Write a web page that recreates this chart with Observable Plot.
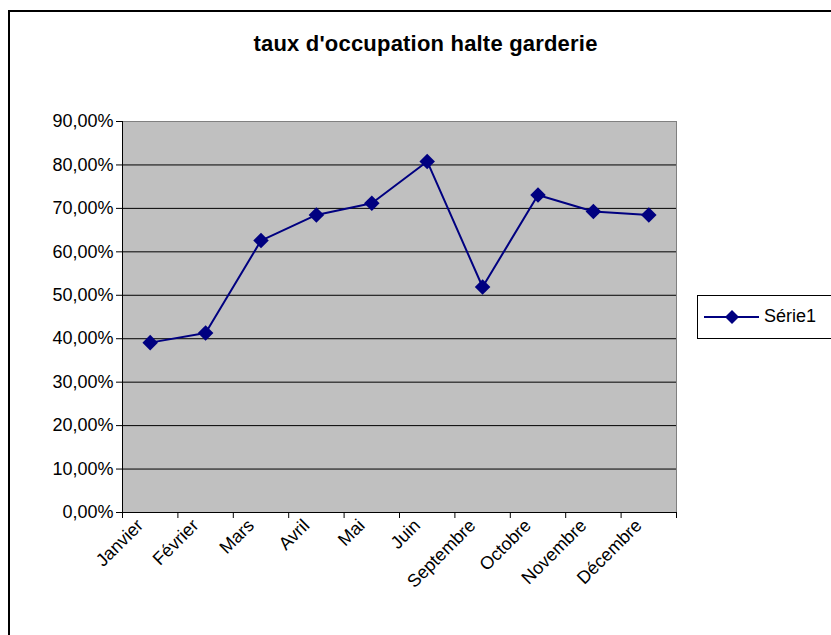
<!DOCTYPE html>
<html>
<head>
<meta charset="utf-8">
<script src="https://cdn.jsdelivr.net/npm/d3@7"></script>
<script src="https://cdn.jsdelivr.net/npm/@observablehq/plot@0.6"></script>
<style>
  html, body { margin: 0; padding: 0; background: #fff; overflow: hidden; }
  #wrap { position: relative; width: 831px; height: 635px; overflow: hidden; font-family: "Liberation Sans", Arial, sans-serif; }
  #border { position: absolute; left: 8px; top: 10px; width: 900px; height: 800px; border: 2px solid #000; box-sizing: border-box; }
  #title { position: absolute; left: 0; width: 851px; top: 31px; text-align: center; font-weight: bold; font-size: 22px; letter-spacing: 0.2px; color: #000; }
  #chart { position: absolute; left: 0; top: 0; }
  #legend { position: absolute; left: 697px; top: 295px; width: 200px; height: 44px; border: 1px solid #000; box-sizing: border-box; }
  #legend svg { position: absolute; left: 0; top: 0; }
  #legend span { position: absolute; left: 66px; top: 10px; font-size: 18px; color: #000; }
</style>
</head>
<body>
<div id="wrap">
  <div id="border"></div>
  <div id="title">taux d'occupation halte garderie</div>
  <div id="chart"></div>
  <div id="legend">
    <svg width="70" height="44"><line x1="6" x2="61" y1="21" y2="21" stroke="#000080" stroke-width="2"/><path d="M34,14 L41,21 L34,28 L27,21 Z" fill="#000080"/></svg>
    <span>Série1</span>
  </div>
</div>
<script>
const months = ["Janvier", "Février", "Mars", "Avril", "Mai", "Juin", "Septembre", "Octobre", "Novembre", "Décembre"];
const values = [0.391, 0.413, 0.626, 0.685, 0.712, 0.808, 0.519, 0.731, 0.693, 0.685];
const yTicks = [0, 0.1, 0.2, 0.3, 0.4, 0.5, 0.6, 0.7, 0.8, 0.9];
const seriesName = "Série1";

const data = months.map((m, i) => ({month: m, idx: i + 0.5, value: values[i]}));
const fmt = d => (d * 100).toFixed(2).replace(".", ",") + "%";

const chart = Plot.plot({
  width: 831,
  height: 635,
  marginLeft: 122,
  marginRight: 155,
  marginTop: 121,
  marginBottom: 123,
  style: {fontFamily: "Liberation Sans, Arial, sans-serif", fontSize: "18px", color: "#000", background: "transparent"},
  x: {domain: [0, months.length]},
  y: {domain: [0, 0.9]},
  marks: [
    Plot.frame({fill: "#c0c0c0", stroke: "#808080"}),
    Plot.gridY(yTicks.filter(d => d > 0 && d < 0.9), {stroke: "#000", strokeOpacity: 1}),
    Plot.ruleX([0], {stroke: "#000"}),
    Plot.ruleY([0], {stroke: "#000"}),
    Plot.axisY({ticks: yTicks, tickFormat: fmt, tickSize: 6, tickPadding: 3, fontSize: 18, label: null, stroke: "#000"}),
    Plot.axisX({ticks: d3.range(0, months.length + 1), tickFormat: () => "", tickSize: 6, label: null, stroke: "#000"}),
    Plot.axisX({ticks: data.map(d => d.idx), tickFormat: v => months[Math.floor(v)], tickSize: 0, tickRotate: -45, tickPadding: 10, dx: -10, fontSize: 18, label: null}),
    Plot.line(data, {x: "idx", y: "value", stroke: "#000080", strokeWidth: 2}),
    Plot.dot(data, {x: "idx", y: "value", symbol: "diamond2", r: 7, fill: "#000080", stroke: "none"})
  ]
});
document.getElementById("chart").appendChild(chart);
</script>
</body>
</html>
